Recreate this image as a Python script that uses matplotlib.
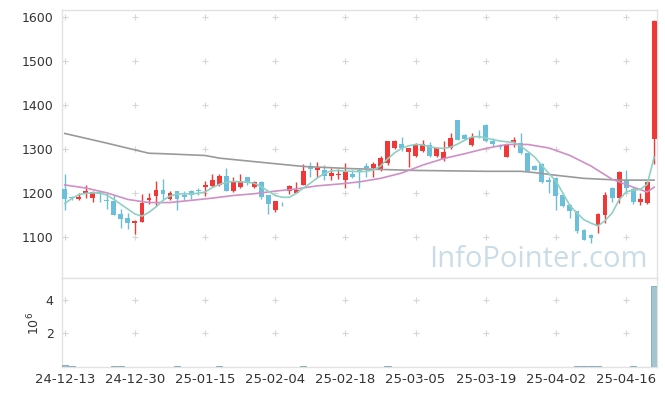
import matplotlib.pyplot as plt
import numpy as np

# x tick labels, one every 10 trading days
tick_pos = [0, 10, 20, 30, 40, 50, 60, 70, 80]
tick_labels = ['24-12-13', '24-12-30', '25-01-15', '25-02-04', '25-02-18',
               '25-03-05', '25-03-19', '25-04-02', '25-04-16']

# daily candles (85 trading days)
opens = [1210, 1192, 1187, 1200, 1190, 1202, 1185, 1183, 1152, 1143,
         1132, 1135, 1185, 1194, 1207, 1186, 1205, 1196, 1205, 1207,
         1215, 1217, 1219, 1239, 1206, 1215, 1236, 1214, 1226, 1196,
         1162, 1176, 1206, 1201, 1219, 1262, 1253, 1253, 1239, 1241,
         1230, 1245, 1252, 1262, 1258, 1253, 1270, 1304, 1313, 1295,
         1285, 1297, 1309, 1285, 1277, 1302, 1366, 1332, 1310, 1335,
         1355, 1319, 1307, 1283, 1315, 1315, 1291, 1262, 1266, 1230,
         1234, 1196, 1173, 1159, 1116, 1105, 1128, 1151, 1213, 1190,
         1230, 1210, 1180, 1177, 1323]
highs = [1245, 1195, 1200, 1219, 1205, 1204, 1200, 1196, 1165, 1155,
         1140, 1198, 1201, 1227, 1232, 1206, 1206, 1206, 1207, 1212,
         1229, 1245, 1245, 1257, 1236, 1245, 1238, 1228, 1227, 1197,
         1183, 1180, 1218, 1226, 1267, 1272, 1272, 1264, 1257, 1255,
         1270, 1252, 1256, 1268, 1272, 1285, 1320, 1322, 1327, 1304,
         1315, 1321, 1316, 1305, 1320, 1336, 1367, 1334, 1337, 1345,
         1357, 1325, 1312, 1310, 1328, 1336, 1292, 1265, 1268, 1236,
         1238, 1198, 1176, 1160, 1118, 1108, 1155, 1204, 1215, 1250,
         1253, 1215, 1200, 1228, 1595]
lows = [1163, 1184, 1184, 1190, 1181, 1180, 1164, 1150, 1122, 1120,
        1108, 1134, 1176, 1171, 1188, 1184, 1161, 1185, 1186, 1196,
        1194, 1215, 1217, 1205, 1204, 1213, 1219, 1212, 1188, 1152,
        1158, 1172, 1198, 1200, 1218, 1236, 1236, 1230, 1230, 1232,
        1211, 1235, 1211, 1238, 1238, 1250, 1265, 1300, 1296, 1260,
        1283, 1295, 1282, 1283, 1274, 1300, 1321, 1322, 1308, 1325,
        1317, 1308, 1300, 1282, 1306, 1290, 1250, 1252, 1224, 1201,
        1163, 1170, 1145, 1110, 1093, 1086, 1110, 1132, 1181, 1179,
        1201, 1176, 1173, 1176, 1267]
closes = [1188, 1189, 1191, 1205, 1203, 1198, 1183, 1151, 1142, 1132,
          1137, 1177, 1189, 1207, 1199, 1200, 1188, 1192, 1196, 1206,
          1219, 1230, 1239, 1206, 1228, 1228, 1226, 1226, 1191, 1176,
          1183, 1175, 1217, 1208, 1250, 1255, 1257, 1239, 1247, 1244,
          1248, 1238, 1250, 1258, 1266, 1280, 1319, 1319, 1302, 1302,
          1313, 1313, 1285, 1302, 1293, 1325, 1322, 1324, 1329, 1334,
          1318, 1313, 1305, 1309, 1322, 1291, 1251, 1254, 1226, 1225,
          1195, 1171, 1160, 1115, 1095, 1098, 1152, 1196, 1190, 1248,
          1211, 1180, 1186, 1225, 1592]
# volume in millions of shares
volumes = [0.12, 0.07, 0.01, 0.01, 0.01, 0.01, 0.01, 0.05, 0.05, 0.01,
           0.01, 0.01, 0.01, 0.01, 0.01, 0.01, 0.05, 0.01, 0.01, 0.01,
           0.01, 0.01, 0.05, 0.01, 0.01, 0.01, 0.01, 0.01, 0.01, 0.01,
           0.01, 0.01, 0.01, 0.01, 0.05, 0.01, 0.01, 0.01, 0.01, 0.01,
           0.01, 0.01, 0.01, 0.01, 0.01, 0.01, 0.05, 0.01, 0.01, 0.01,
           0.01, 0.01, 0.01, 0.01, 0.01, 0.01, 0.01, 0.01, 0.01, 0.01,
           0.01, 0.01, 0.01, 0.01, 0.01, 0.01, 0.01, 0.01, 0.01, 0.01,
           0.01, 0.01, 0.01, 0.05, 0.05, 0.05, 0.05, 0.01, 0.01, 0.01,
           0.01, 0.05, 0.01, 0.01, 4.85]

# moving averages
ma_short = [1177, 1188, 1197, 1200, 1201, 1201, 1196, 1186, 1175, 1164,
            1153, 1148, 1157, 1169, 1184, 1194, 1198, 1199, 1199, 1200,
            1203, 1213, 1220, 1225, 1227, 1226, 1225, 1223, 1215, 1205,
            1195, 1191, 1191, 1200, 1212, 1223, 1235, 1245, 1251, 1252,
            1250, 1250, 1249, 1250, 1253, 1262, 1278, 1292, 1302, 1308,
            1311, 1310, 1306, 1303, 1302, 1305, 1312, 1321, 1328, 1329,
            1326, 1322, 1319, 1317, 1316, 1307, 1295, 1282, 1263, 1245,
            1228, 1200, 1172, 1155, 1140, 1132, 1126, 1138, 1155, 1185,
            1203, 1207, 1209, 1220, 1282]
ma_mid_idx = [0, 3, 6, 9, 12, 15, 18, 21, 24, 27, 30, 33, 36, 39, 42, 45, 48,
              51, 54, 57, 60, 63, 66, 69, 72, 75, 78, 81, 83, 84]
ma_mid = [1219, 1212, 1201, 1186, 1179, 1179, 1184, 1189, 1195, 1199, 1205,
          1210, 1217, 1221, 1226, 1234, 1246, 1264, 1279, 1290, 1302, 1311,
          1311, 1303, 1286, 1262, 1232, 1214, 1203, 1214]
ma_long_idx = [0, 6, 12, 14, 20, 22, 27, 34, 41, 50, 60, 65, 67, 70, 74, 79, 84]
ma_long = [1336, 1314, 1291, 1290, 1286, 1280, 1272, 1261, 1256, 1252, 1250,
           1250, 1247, 1241, 1234, 1230, 1230]

up_color = '#f03838'
down_color = '#6cbfdb'
edge_gray = '#e2e2e2'
text_gray = '#333333'

fig = plt.figure(figsize=(6.65, 3.96), dpi=100)
ax = fig.add_axes([0.0932, 0.2992, 0.8947, 0.6755])
ax2 = fig.add_axes([0.0932, 0.0732, 0.8947, 0.226])

x = np.arange(len(opens))
o = np.array(opens)
c = np.array(closes)
colors = np.where(c >= o, up_color, down_color)

# candles
ax.vlines(x, lows, highs, colors=colors, linewidth=1.0, zorder=3)
ax.bar(x, np.maximum(np.abs(c - o), 1.5), bottom=np.minimum(o, c), width=0.7,
       color=colors, linewidth=0, zorder=4)

# moving averages
ax.plot(ma_long_idx, ma_long, color='#9a9a9a', linewidth=1.2, zorder=5)
ax.plot(ma_mid_idx, ma_mid, color='#cf90c6', linewidth=1.2, zorder=5)
ax.plot(x, ma_short, color='#8fd0c4', linewidth=1.2, zorder=5)

# small '+' marks where the grid lines would cross
price_ticks = [1100, 1200, 1300, 1400, 1500, 1600]
gx, gy = np.meshgrid(tick_pos, price_ticks)
ax.plot(gx.ravel(), gy.ravel(), '+', color='#d6d6d6', ms=5, mew=0.8, zorder=1)

ax.text(0.985, 0.04, 'InfoPointer.com', transform=ax.transAxes, ha='right',
        va='baseline', fontsize=21, color='#cadde7', family='Open Sans', zorder=0)

ax.set_xlim(-0.4, 84.4)
ax.set_ylim(1008.6, 1616.6)
ax.set_yticks(price_ticks)
ax.set_xticks(tick_pos)
ax.tick_params(axis='x', labelbottom=False, length=0)
ax.tick_params(axis='y', length=0, labelsize=9, colors=text_gray, pad=6)

# volume panel
ax2.bar(x, volumes, width=0.9, color='#a4c4d0', edgecolor='#7ea6b6', linewidth=0.6, zorder=3)
vol_ticks = [2, 4]
gx2, gy2 = np.meshgrid(tick_pos, vol_ticks)
ax2.plot(gx2.ravel(), gy2.ravel(), '+', color='#d6d6d6', ms=5, mew=0.8, zorder=1)
ax2.set_xlim(-0.4, 84.4)
ax2.set_ylim(0, 5.33)
ax2.set_yticks(vol_ticks)
ax2.set_xticks(tick_pos)
ax2.set_xticklabels(tick_labels)
ax2.tick_params(axis='x', length=0, labelsize=9.5, colors=text_gray, pad=4)
ax2.tick_params(axis='y', length=0, labelsize=9, colors=text_gray, pad=6)
fig.text(0.051, 0.182, r'$10^{6}$', rotation=90, ha='center', va='center',
         fontsize=9, color=text_gray)

for a in (ax, ax2):
    for s in a.spines.values():
        s.set_color(edge_gray)
        s.set_linewidth(1.0)

plt.savefig('out.png', dpi=100)
